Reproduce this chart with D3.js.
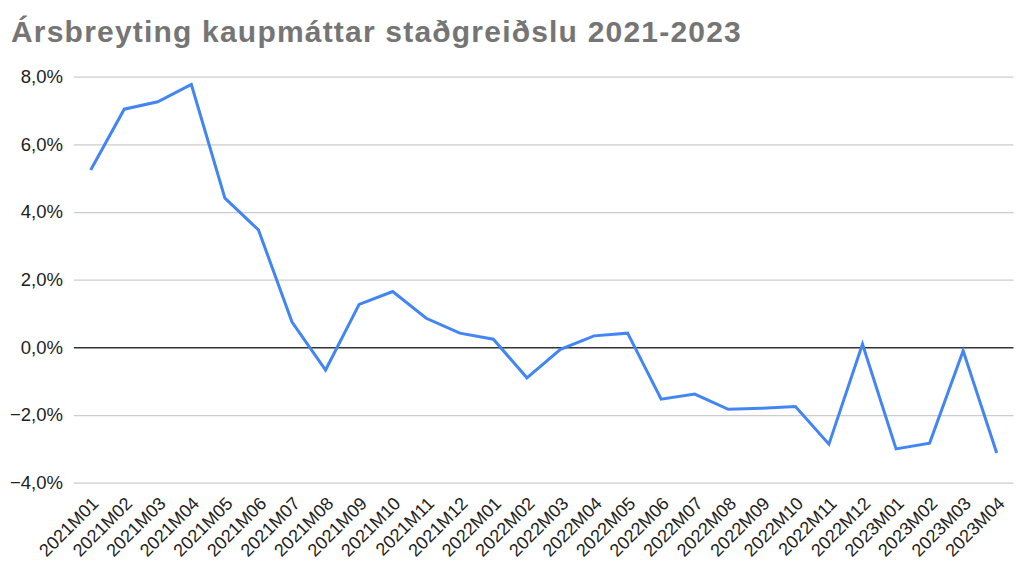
<!DOCTYPE html>
<html><head><meta charset="utf-8">
<script src="https://cdn.jsdelivr.net/npm/d3@7"></script>
<style>body{margin:0;background:#fff}svg{display:block}</style>
</head><body>
<script>
const title = "Ársbreyting kaupmáttar staðgreiðslu 2021-2023";
const categories = ["2021M01","2021M02","2021M03","2021M04","2021M05","2021M06","2021M07","2021M08","2021M09","2021M10","2021M11","2021M12",
"2022M01","2022M02","2022M03","2022M04","2022M05","2022M06","2022M07","2022M08","2022M09","2022M10","2022M11","2022M12",
"2023M01","2023M02","2023M03","2023M04"];
const values = [5.24,7.04,7.26,7.77,4.41,3.47,0.75,-0.67,1.27,1.65,0.86,0.42,
0.24,-0.90,-0.06,0.34,0.42,-1.53,-1.38,-1.83,-1.80,-1.75,-2.86,0.10,
-3.00,-2.83,-0.10,-3.12];
const yTicks = [-4,-2,0,2,4,6,8];

const W=1024,H=575;
const svg=d3.select("body").append("svg").attr("width",W).attr("height",H);
const x=d3.scalePoint().domain(categories).range([73.9,1013.5]).padding(0.5);
const y=d3.scaleLinear().domain([-4,8]).range([482.7,76.7]);

svg.append("text").attr("x",11).attr("y",42).text(title)
 .attr("font-family","Liberation Sans, Arial, sans-serif").attr("font-weight","bold")
 .attr("font-size",30).attr("letter-spacing",1.2).attr("fill","#757575");

const fmt=d=>d3.format(".1f")(d).replace(".",",")+"%";
const gy=svg.append("g").attr("transform","translate(73.9,0)")
 .call(d3.axisLeft(y).tickValues(yTicks).tickFormat(fmt).tickSize(-(1013.5-73.9)).tickPadding(11));
gy.select(".domain").remove();
gy.selectAll(".tick line").attr("stroke",d=>d===0?"#333":"#ccc").attr("stroke-width",d=>d===0?1.5:1.2);
gy.selectAll(".tick text").attr("font-family","Liberation Sans, Arial, sans-serif").attr("font-size",18.5).attr("fill","#222");

const gx=svg.append("g").attr("transform","translate(0,482.7)")
 .call(d3.axisBottom(x).tickSize(0).tickPadding(0));
gx.select(".domain").remove();
gx.selectAll(".tick text").attr("font-family","Liberation Sans, Arial, sans-serif").attr("font-size",18).attr("fill","#222")
 .attr("text-anchor","end").attr("dy",0).attr("y",0)
 .attr("transform","translate(8.5,22) rotate(-45)");

svg.append("path").datum(values)
 .attr("fill","none").attr("stroke","#4285F4").attr("stroke-width",3).attr("stroke-linejoin","miter")
 .attr("d",d3.line().x((d,i)=>x(categories[i])).y(d=>y(d)));
</script>
</body></html>
